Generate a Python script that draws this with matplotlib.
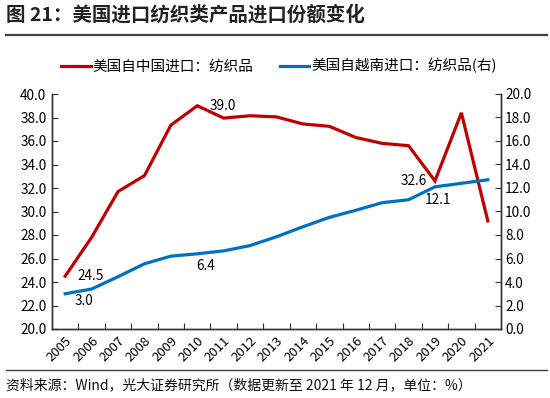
import matplotlib
matplotlib.use("Agg")
import matplotlib.pyplot as plt
from matplotlib.lines import Line2D

plt.rcParams['font.family'] = ['Noto Sans CJK SC', 'DejaVu Sans']

years = ['2005', '2006', '2007', '2008', '2009', '2010', '2011', '2012', '2013',
         '2014', '2015', '2016', '2017', '2018', '2019', '2020', '2021']
china = [24.5, 27.8, 31.7, 33.05, 37.35, 39.0, 37.95, 38.15, 38.05,
         37.45, 37.25, 36.3, 35.8, 35.6, 32.6, 38.4, 29.2]
vietnam = [3.0, 3.4, 4.45, 5.55, 6.2, 6.4, 6.65, 7.1, 7.85,
           8.7, 9.5, 10.1, 10.75, 11.0, 12.1, 12.4, 12.7]
left_ticks = [20.0, 22.0, 24.0, 26.0, 28.0, 30.0, 32.0, 34.0, 36.0, 38.0, 40.0]
right_ticks = [0.0, 2.0, 4.0, 6.0, 8.0, 10.0, 12.0, 14.0, 16.0, 18.0, 20.0]
name_china = '美国自中国进口：纺织品'
name_vietnam = '美国自越南进口：纺织品(右)'
title = '图 21：美国进口纺织类产品进口份额变化'
source = '资料来源：Wind，光大证券研究所（数据更新至 2021 年 12 月，单位：%）'

RED = '#C00000'
BLUE = '#0070C0'
W, H = 550, 398
fig = plt.figure(figsize=(5.5, 3.98), dpi=100)

ax = fig.add_axes([52 / W, 1 - 329 / H, (501 - 52) / W, (329 - 94) / H])
ax2 = ax.twinx()

x = list(range(len(years)))
ax.plot(x, china, color=RED, lw=2.3, solid_joinstyle='miter', zorder=3)
ax2.plot(x, vietnam, color=BLUE, lw=2.3, solid_joinstyle='miter', zorder=3)

ax.set_xlim(-0.5, len(years) - 0.5)
ax.set_ylim(20, 40)
ax2.set_ylim(0, 20)
ax.set_yticks(left_ticks)
ax.set_yticklabels([f'{v:.1f}' for v in left_ticks])
ax2.set_yticks(right_ticks)
ax2.set_yticklabels([f'{v:.1f}' for v in right_ticks])

ax.set_xticks([i + 0.5 for i in x[:-1]] + [-0.5])
ax.set_xticklabels([])
ax.set_xticks(x, minor=True)
ax.set_xticklabels(years, minor=True, rotation=45, ha='right', va='top',
                   rotation_mode='anchor', fontsize=9.5)
ax.tick_params(axis='x', which='minor', length=0, pad=4)
ax.tick_params(axis='x', which='major', direction='in', length=4, color='#333333')
ax.tick_params(axis='y', direction='in', length=4, labelsize=9.8, pad=4, color='#333333')
ax2.tick_params(axis='y', direction='in', length=4, labelsize=9.8, pad=3, color='#333333')

for a in (ax, ax2):
    a.spines['top'].set_visible(False)
    for s in ('left', 'right', 'bottom'):
        a.spines[s].set_color('#333333')
        a.spines[s].set_linewidth(1.0)
ax.patch.set_visible(False)

# data labels
fs = 9.8
i05, i10, i19 = 0, 5, 14
ax.annotate(f'{china[i05]:.1f}', (x[i05], china[i05]), xytext=(8.5, 0),
            textcoords='offset points', fontsize=fs, ha='left', va='center')
ax.annotate(f'{china[i10]:.1f}', (x[i10], china[i10]), xytext=(9, 0),
            textcoords='offset points', fontsize=fs, ha='left', va='center')
ax.annotate(f'{china[i19]:.1f}', (x[i19], china[i19]), xytext=(-6, 0),
            textcoords='offset points', fontsize=fs, ha='right', va='center')
ax2.annotate(f'{vietnam[i05]:.1f}', (x[i05], vietnam[i05]), xytext=(6.5, -5),
             textcoords='offset points', fontsize=fs, ha='left', va='center')
ax2.annotate(f'{vietnam[i10]:.1f}', (x[i10], vietnam[i10]), xytext=(6, -9),
             textcoords='offset points', fontsize=fs, ha='center', va='center')
ax2.annotate(f'{vietnam[i19]:.1f}', (x[i19], vietnam[i19]), xytext=(2.5, -9.6),
             textcoords='offset points', fontsize=fs, ha='center', va='center')

# legend
handles = [Line2D([], [], color=RED, lw=2.3), Line2D([], [], color=BLUE, lw=2.3)]
fig.legend(handles, [name_china, name_vietnam], loc='center',
           bbox_to_anchor=(279 / W, 1 - 66 / H), ncol=2, frameon=False,
           fontsize=10.5, handlelength=2.0, handletextpad=0.15, columnspacing=1.8)

# title and rules
fig.text(6 / W, 1 - 15 / H, title, fontsize=14, fontweight='bold',
         ha='left', va='center', color='#222222')
fig.add_artist(Line2D([6 / W, 547 / W], [1 - 35 / H, 1 - 35 / H],
                      color='#404040', lw=1.6))
fig.add_artist(Line2D([6 / W, 547 / W], [1 - 370 / H, 1 - 370 / H],
                      color='#404040', lw=1.0))
fig.text(6 / W, 1 - 385 / H, source, fontsize=10, ha='left', va='center',
         color='#111111')

fig.savefig('out.png', dpi=100)
